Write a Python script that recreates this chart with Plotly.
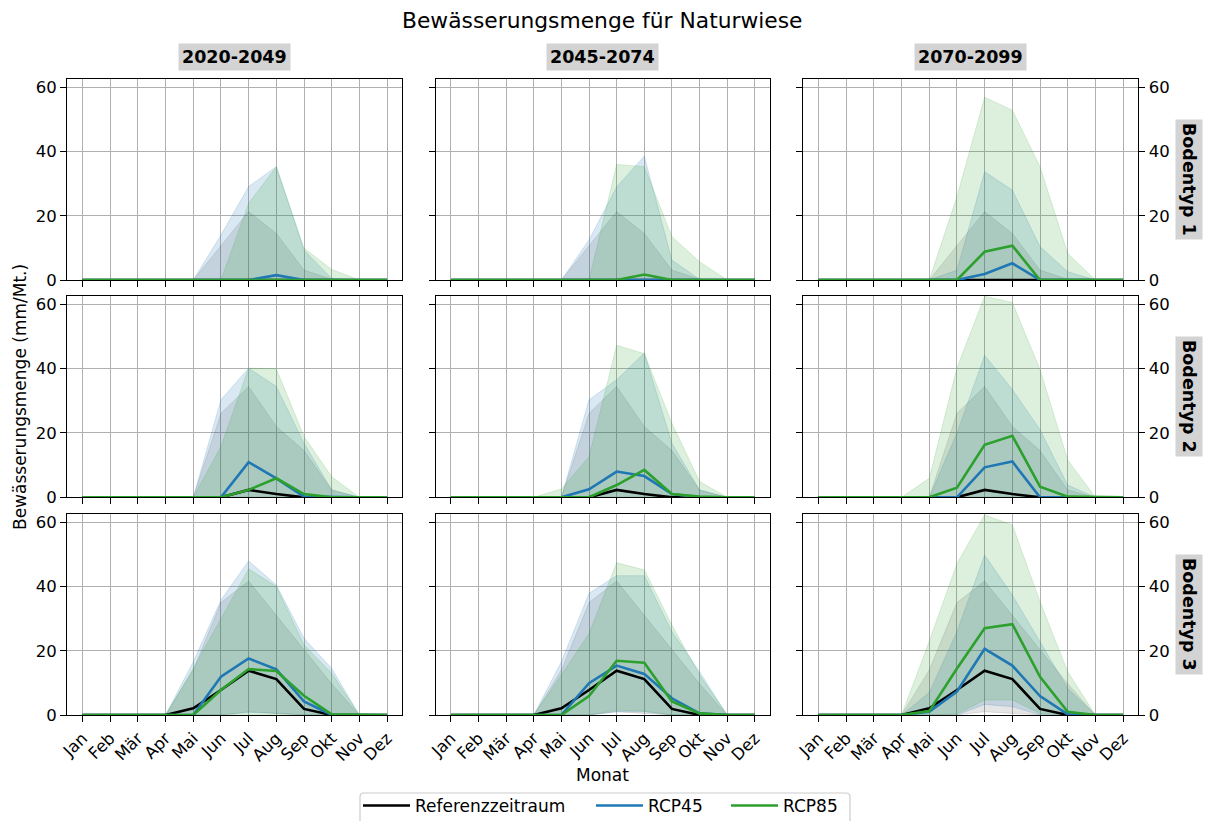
import plotly.graph_objects as go

W, H = 1210, 821

MONTHS = ["Jan", "Feb", "Mär", "Apr", "Mai", "Jun", "Jul", "Aug", "Sep", "Okt", "Nov", "Dez"]
PERIODS = ["2020-2049", "2045-2074", "2070-2099"]
SOILS = ["Bodentyp 1", "Bodentyp 2", "Bodentyp 3"]
SERIES = ["Referenzzeitraum", "RCP45", "RCP85"]
Z = [0, 0, 0, 0, 0, 0, 0, 0, 0, 0, 0, 0]

# Reference period (same for each future period), per soil type
REF_MED_B1 = [0, 0, 0, 0, 0, 0, 0, 0, 0, 0, 0, 0]
REF_HI_B1 = [0, 0, 0, 0, 0, 10.7, 21.3, 14.5, 3.1, 0.2, 0, 0]
REF_LO_B1 = [0, 0, 0, 0, 0, 0, 0, 0, 0, 0, 0, 0]
REF_MED_B2 = [0, 0, 0, 0, 0, 0, 2.3, 1.0, 0, 0, 0, 0]
REF_HI_B2 = [0, 0, 0, 0, 0, 26.1, 34.4, 22.0, 14.5, 2.3, 0, 0]
REF_LO_B2 = [0, 0, 0, 0, 0, 0, 0, 0, 0, 0, 0, 0]
REF_MED_B3 = [0, 0, 0, 0, 2.1, 7.8, 13.8, 11.2, 1.9, 0, 0, 0]
REF_HI_B3 = [0, 0, 0, 0, 14.0, 35.0, 41.7, 31.0, 20.3, 9.7, 0, 0]
REF_LO_B3 = [0, 0, 0, 0, 0, 0, 1.0, 0.5, 0, 0, 0, 0]

# RCP45: one list per period (2020-2049, 2045-2074, 2070-2099)
RCP45_MED_B1 = [[0, 0, 0, 0, 0, 0, 0, 1.5, 0, 0, 0, 0],
                [0, 0, 0, 0, 0, 0, 0, 0, 0, 0, 0, 0],
                [0, 0, 0, 0, 0, 0, 1.9, 5.2, 0, 0, 0, 0]]
RCP45_HI_B1 = [[0, 0, 0, 0, 0, 14.0, 29.1, 35.3, 9.3, 0.5, 0, 0],
               [0, 0, 0, 0, 0, 12.5, 29.0, 38.6, 6.2, 0.2, 0, 0],
               [0, 0, 0, 0, 0, 3.1, 33.7, 28.0, 10.4, 2.6, 0, 0]]
RCP45_LO_B1 = [Z, Z, Z]
RCP45_MED_B2 = [[0, 0, 0, 0, 0, 0, 10.9, 5.9, 0.2, 0, 0, 0],
                [0, 0, 0, 0, 0, 2.5, 8.0, 6.6, 1.0, 0, 0, 0],
                [0, 0, 0, 0, 0, 0, 9.3, 11.1, 0, 0, 0, 0]]
RCP45_HI_B2 = [[0, 0, 0, 0, 0, 30.3, 40.1, 34.4, 16.8, 2.3, 0, 0],
               [0, 0, 0, 0, 0, 30.3, 36.5, 44.8, 16.8, 2.3, 0, 0],
               [0, 0, 0, 0, 0, 20.0, 44.1, 33.5, 21.0, 3.8, 0, 0]]
RCP45_LO_B2 = [Z, Z, Z]
RCP45_MED_B3 = [[0, 0, 0, 0, 0, 11.9, 17.6, 14.2, 4.2, 0, 0, 0],
                [0, 0, 0, 0, 0, 9.9, 15.4, 12.8, 5.2, 0.5, 0, 0],
                [0, 0, 0, 0, 1.0, 7.3, 20.6, 15.4, 5.9, 0.2, 0, 0]]
RCP45_HI_B3 = [[0, 0, 0, 0, 16.6, 35.8, 48.0, 40.5, 23.9, 14.5, 0, 0],
               [0, 0, 0, 0, 16.6, 37.9, 43.4, 43.4, 26.0, 13.5, 0, 0],
               [0, 0, 0, 0, 7.0, 26.0, 49.8, 37.4, 22.8, 8.3, 0, 0]]
RCP45_LO_B3 = [[0, 0, 0, 0, 0, 0, 0.8, 0.5, 0, 0, 0, 0],
               [0, 0, 0, 0, 0, 0, 1.0, 1.0, 0, 0, 0, 0],
               [0, 0, 0, 0, 0, 0, 3.3, 2.6, 0, 0, 0, 0]]

# RCP85
RCP85_MED_B1 = [[0, 0, 0, 0, 0, 0, 0, 0, 0, 0, 0, 0],
                [0, 0, 0, 0, 0, 0, 0, 1.7, 0, 0, 0, 0],
                [0, 0, 0, 0, 0, 0, 8.8, 10.7, 0, 0, 0, 0]]
RCP85_HI_B1 = [[0, 0, 0, 0, 0, 0, 23.9, 35.3, 9.9, 3.3, 0, 0],
               [0, 0, 0, 0, 0, 0, 36.0, 35.3, 13.5, 5.7, 0, 0],
               [0, 0, 0, 0, 0, 26.0, 56.9, 52.9, 35.3, 8.3, 0, 0]]
RCP85_LO_B1 = [Z, Z, Z]
RCP85_MED_B2 = [[0, 0, 0, 0, 0, 0, 2.3, 5.9, 1.0, 0, 0, 0],
                [0, 0, 0, 0, 0, 0, 3.8, 8.5, 1.0, 0.2, 0, 0],
                [0, 0, 0, 0, 0, 3.0, 16.3, 19.1, 3.3, 0.2, 0, 0]]
RCP85_HI_B2 = [[0, 0, 0, 0, 0, 15.8, 40.1, 39.9, 18.9, 6.4, 0, 0],
               [0, 0, 0, 0, 2.6, 12.6, 47.2, 44.6, 23.0, 4.9, 0, 0],
               [0, 0, 0, 0, 5.9, 40.2, 62.4, 60.5, 39.7, 11.6, 0, 0]]
RCP85_LO_B2 = [Z, Z, Z]
RCP85_MED_B3 = [[0, 0, 0, 0, 0, 7.8, 14.3, 13.7, 6.0, 0.2, 0, 0],
                [0, 0, 0, 0, 0, 5.9, 16.9, 16.3, 4.2, 0.5, 0, 0],
                [0, 0, 0, 0, 1.2, 14.5, 27.0, 28.3, 11.9, 1.0, 0, 0]]
RCP85_HI_B3 = [[0, 0, 0, 0, 14.5, 30.0, 45.5, 40.0, 21.8, 13.0, 0, 0],
               [0, 0, 0, 0, 12.5, 25.4, 47.4, 45.2, 28.0, 12.5, 0, 0],
               [0, 0, 0, 0, 23.0, 47.2, 62.3, 59.2, 35.3, 13.5, 0, 0]]
RCP85_LO_B3 = [[0, 0, 0, 0, 0, 0, 0, 0, 0, 0, 0, 0],
               [0, 0, 0, 0, 0, 0, 1.5, 1.2, 0, 0, 0, 0],
               [0, 0, 0, 0, 0, 0.3, 4.7, 4.7, 0.5, 0, 0, 0]]

REF = [(REF_MED_B1, REF_LO_B1, REF_HI_B1),
       (REF_MED_B2, REF_LO_B2, REF_HI_B2),
       (REF_MED_B3, REF_LO_B3, REF_HI_B3)]
R45 = [(RCP45_MED_B1, RCP45_LO_B1, RCP45_HI_B1),
       (RCP45_MED_B2, RCP45_LO_B2, RCP45_HI_B2),
       (RCP45_MED_B3, RCP45_LO_B3, RCP45_HI_B3)]
R85 = [(RCP85_MED_B1, RCP85_LO_B1, RCP85_HI_B1),
       (RCP85_MED_B2, RCP85_LO_B2, RCP85_HI_B2),
       (RCP85_MED_B3, RCP85_LO_B3, RCP85_HI_B3)]

FONT = "DejaVu Sans"
COL_X = [(67.3, 402.3), (435.7, 770.0), (803.3, 1138.3)]
ROW_Y = [(79.0, 280.0), (295.7, 497.3), (514.0, 715.0)]

C_REF = "#000000"
C_45 = "#1f77b4"
C_85 = "#2ca02c"
F_REF = "rgba(0,0,0,0.10)"
F_45 = "rgba(31,119,180,0.17)"
F_85 = "rgba(44,160,44,0.16)"
LEGEND_X = [358, 591, 726]


def px(x):
    return x / W


def py(y):
    return 1 - y / H


xs = list(range(12))
fig = go.Figure()
layout = {}
for r in range(3):
    for c in range(3):
        n = r * 3 + c + 1
        xa = "x" if n == 1 else f"x{n}"
        ya = "y" if n == 1 else f"y{n}"
        bands = [
            (REF[r][1], REF[r][2], F_REF),
            (R45[r][1][c], R45[r][2][c], F_45),
            (R85[r][1][c], R85[r][2][c], F_85),
        ]
        for lo, hi, fc in bands:
            fig.add_trace(go.Scatter(
                x=xs + xs[::-1], y=list(hi) + list(lo)[::-1],
                fill="toself", fillcolor=fc, mode="lines",
                line=dict(color=fc, width=1), showlegend=False,
                hoverinfo="skip", xaxis=xa, yaxis=ya))
        lines = [
            (REF[r][0], C_REF),
            (R45[r][0][c], C_45),
            (R85[r][0][c], C_85),
        ]
        for k, (med, col) in enumerate(lines):
            fig.add_trace(go.Scatter(
                x=xs, y=med, mode="lines", name=SERIES[k],
                line=dict(color=col, width=2.6),
                showlegend=(n == 1), legendgroup=SERIES[k],
                legend=("legend" if k == 0 else f"legend{k + 1}"),
                xaxis=xa, yaxis=ya))

        xk = "xaxis" if n == 1 else f"xaxis{n}"
        yk = "yaxis" if n == 1 else f"yaxis{n}"
        layout[xk] = dict(
            domain=[px(COL_X[c][0]), px(COL_X[c][1])], anchor=ya,
            range=[-0.55, 11.55], tickmode="array", tickvals=xs, ticktext=MONTHS,
            showticklabels=(r == 2), tickangle=-45, automargin=False,
            showgrid=True, gridcolor="#b0b0b0", gridwidth=1.3,
            showline=True, linecolor="black", linewidth=1.3, mirror=True,
            ticks="outside", ticklen=6, tickwidth=1.3, tickcolor="black",
            zeroline=False, tickfont=dict(family=FONT, size=16.5, color="black"))
        ydict = dict(
            domain=[py(ROW_Y[r][1]), py(ROW_Y[r][0])], anchor=xa,
            range=[0, 62.6], tickmode="array", tickvals=[0, 20, 40, 60],
            automargin=False,
            showgrid=True, gridcolor="#b0b0b0", gridwidth=1.3,
            showline=True, linecolor="black", linewidth=1.3,
            ticks="outside", ticklen=6, tickwidth=1.3, tickcolor="black",
            zeroline=False, tickfont=dict(family=FONT, size=16.5, color="black"))
        if c == 2:
            ydict.update(side="right", mirror="allticks", showticklabels=True)
        else:
            ydict.update(side="left", mirror=True, showticklabels=(c == 0))
        layout[yk] = ydict

annotations = []
annotations.append(dict(
    text="Bewässerungsmenge für Naturwiese", x=px(602.5), y=py(21),
    xref="paper", yref="paper", showarrow=False, xanchor="center", yanchor="middle",
    font=dict(family=FONT, size=21.8, color="black")))
for c, p in enumerate(PERIODS):
    annotations.append(dict(
        text=f"<b>{p}</b>", x=px((COL_X[c][0] + COL_X[c][1]) / 2), y=py(57),
        xref="paper", yref="paper", showarrow=False, xanchor="center", yanchor="middle",
        bgcolor="#d3d3d3", borderpad=3,
        font=dict(family=FONT, size=17.5, color="black")))
for r, s in enumerate(SOILS):
    annotations.append(dict(
        text=f"<b>{s}</b>", x=px(1189.5), y=py((ROW_Y[r][0] + ROW_Y[r][1]) / 2),
        xref="paper", yref="paper", showarrow=False, xanchor="center", yanchor="middle",
        textangle=90, bgcolor="#d3d3d3", borderpad=3,
        font=dict(family=FONT, size=17.5, color="black")))
annotations.append(dict(
    text="Monat", x=px(602.9), y=py(775),
    xref="paper", yref="paper", showarrow=False, xanchor="center", yanchor="middle",
    font=dict(family=FONT, size=17, color="black")))
annotations.append(dict(
    text="Bewässerungsmenge (mm/Mt.)", x=px(20), y=py(397),
    xref="paper", yref="paper", showarrow=False, xanchor="center", yanchor="middle",
    textangle=-90, font=dict(family=FONT, size=17, color="black")))

legends = {}
for k in range(3):
    key = "legend" if k == 0 else f"legend{k + 1}"
    legends[key] = dict(
        orientation="h", x=px(LEGEND_X[k]), xanchor="left", y=py(806), yanchor="middle",
        borderwidth=0, bgcolor="rgba(0,0,0,0)",
        font=dict(family=FONT, size=17, color="black"), itemwidth=47)

shapes = [dict(
    type="path", xref="paper", yref="paper", layer="above",
    path=(f"M {px(364)},{py(793)} L {px(846)},{py(793)} "
          f"Q {px(850)},{py(793)} {px(850)},{py(797)} L {px(850)},{py(830)} "
          f"L {px(360)},{py(830)} L {px(360)},{py(797)} "
          f"Q {px(360)},{py(793)} {px(364)},{py(793)} Z"),
    line=dict(color="#cccccc", width=1.2), fillcolor="rgba(0,0,0,0)")]

fig.update_layout(
    width=W, height=H, autosize=False,
    margin=dict(l=0, r=0, t=0, b=0, autoexpand=False),
    paper_bgcolor="white", plot_bgcolor="white",
    font=dict(family=FONT, size=17, color="black"),
    annotations=annotations, shapes=shapes,
    **legends,
    **layout)

fig.write_html("out.html")
